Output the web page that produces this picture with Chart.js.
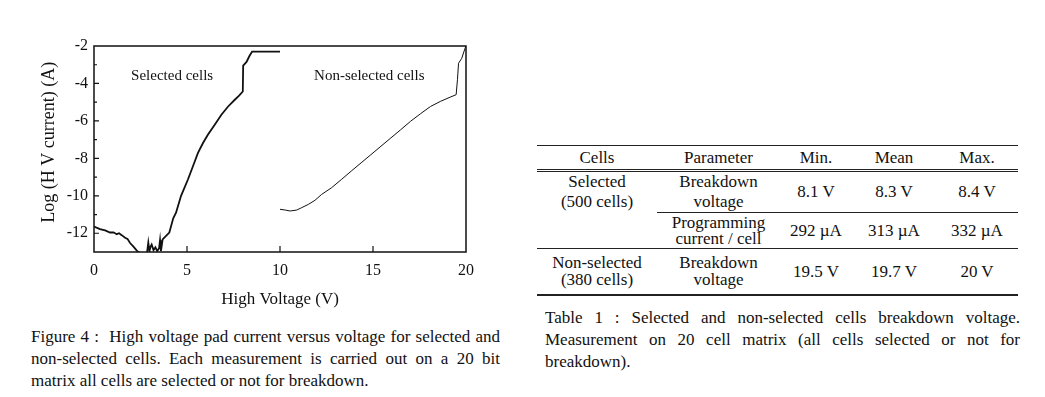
<html>

<head>
    <script src="https://cdn.jsdelivr.net/npm/chart.js@4.4.1/dist/chart.umd.min.js"></script>
    <style>
        body {
            margin: 0;
            background: #fff;
            font-family: "Liberation Serif", "DejaVu Serif", serif;
            color: #111;
        }

        .plot {
            position: absolute;
            left: 0;
            top: 0;
            width: 500px;
            height: 320px;
        }

        .cap {
            position: absolute;
            font-size: 17px;
            line-height: 22px;
            text-align: justify;
        }

        table {
            position: absolute;
            left: 537px;
            top: 145px;
            width: 481px;
            border-collapse: collapse;
            font-size: 17px;
            table-layout: fixed;
        }

        td {
            text-align: center;
            padding: 0;
        }
    </style>
</head>

<body>
    <div class="plot">
        <canvas id="myChart"></canvas>
    </div>

    <table>
        <colgroup>
            <col style="width:120px">
            <col style="width:123px">
            <col style="width:72px">
            <col style="width:84px">
            <col style="width:82px">
        </colgroup>
        <tr style="height:25px;border-top:1px solid #222;border-bottom:3px double #222">
            <td>Cells</td>
            <td>Parameter</td>
            <td>Min.</td>
            <td>Mean</td>
            <td>Max.</td>
        </tr>
        <tr style="height:40px;line-height:20px">
            <td rowspan="2" style="vertical-align:top">Selected<br>(500 cells)</td>
            <td style="border-bottom:1px solid #222">Breakdown<br>voltage</td>
            <td style="border-bottom:1px solid #222">8.1 V</td>
            <td style="border-bottom:1px solid #222">8.3 V</td>
            <td style="border-bottom:1px solid #222">8.4 V</td>
        </tr>
        <tr style="height:36px;line-height:16px;border-bottom:1px solid #222">
            <td>Programming<br>current / cell</td>
            <td>292 µA</td>
            <td>313 µA</td>
            <td>332 µA</td>
        </tr>
        <tr style="height:46px;line-height:17px;border-bottom:2px solid #222">
            <td>Non-selected<br>(380 cells)</td>
            <td>Breakdown<br>voltage</td>
            <td>19.5 V</td>
            <td>19.7 V</td>
            <td>20 V</td>
        </tr>
    </table>

    <div class="cap" style="left:31px;top:326px;width:469px">Figure 4 :&nbsp; High voltage pad current versus voltage for selected and non-selected cells. Each measurement is carried out on a 20 bit matrix all cells are selected or not for breakdown.</div>
    <div class="cap" style="left:545px;top:307px;width:475px">Table 1 : Selected and non-selected cells breakdown voltage. Measurement on 20 cell matrix (all cells selected or not for breakdown).</div>

    <script>
        // selected cells : voltage (V) / log current
        let selV = [0, 0.32, 0.6, 0.86, 1.05, 1.22, 1.35, 1.49, 1.67, 1.8, 1.94, 2.11, 2.3, 2.45, 2.85, 2.92, 2.98, 3.05, 3.1, 3.2, 3.3, 3.4, 3.5, 3.55, 3.6, 3.69,
            4.05, 4.26, 4.41, 4.68, 5.05, 5.32, 5.59, 5.86, 6.13, 6.49, 6.85, 7.21, 7.57, 7.8, 8.0, 8.02, 8.2, 8.35, 8.5, 10.0];
        let selI = [-11.64, -11.78, -11.85, -11.96, -11.95, -12.05, -12.0, -12.1, -12.24, -12.3, -12.52, -12.7, -12.93, -13.05, -13.05, -12.5, -12.95, -12.7, -12.6, -12.9, -12.75, -12.95, -12.8, -12.37, -12.95, -12.33,
            -11.96, -11.2, -10.9, -10.0, -9.13, -8.42, -7.71, -7.18, -6.73, -6.2, -5.67, -5.23, -4.87, -4.65, -4.43, -3.05, -2.85, -2.55, -2.3, -2.3];

        // non-selected cells
        let nonV = [10, 10.28, 10.55, 10.9, 11.17, 11.52, 11.88, 12.23, 12.77, 13.3, 13.83, 14.36, 14.89, 15.43, 15.96, 16.49, 17.02, 17.55, 18.09, 18.62, 19.15, 19.47, 19.54, 19.6, 19.77, 19.95, 20];
        let nonI = [-10.72, -10.76, -10.81, -10.76, -10.63, -10.46, -10.24, -9.93, -9.57, -9.13, -8.68, -8.24, -7.8, -7.35, -6.91, -6.47, -6.02, -5.62, -5.23, -4.96, -4.73, -4.6, -3.8, -2.92, -2.66, -2.12, -2.0];

        let xTicks = [0, 5, 10, 15, 20];
        let yTicks = [-13, -12, -11, -10, -9, -8, -7, -6, -5, -4, -3, -2];
        let yLabels = [-12, -10, -8, -6, -4, -2];
        let notes = [
            { text: "Selected cells", x: 4.2, y: -3.6 },
            { text: "Non-selected cells", x: 14.8, y: -3.6 }
        ];

        let toPts = (xs, ys) => xs.map((v, i) => ({ x: v, y: ys[i] }));

        // frame, inward ticks and the two curve labels
        let frame = {
            id: "frame",
            afterDraw(chart) {
                let c = chart.ctx, a = chart.chartArea;
                let sx = chart.scales.x, sy = chart.scales.y;
                c.save();
                c.strokeStyle = "#111";
                c.lineWidth = 1.5;
                c.strokeRect(a.left, a.top, a.right - a.left, a.bottom - a.top);
                c.lineWidth = 1.2;
                c.beginPath();
                yTicks.forEach(v => {
                    if (v == -13 || v == -2) return;
                    let py = sy.getPixelForValue(v);
                    let len = yLabels.includes(v) ? 5 : 3;
                    c.moveTo(a.left, py);
                    c.lineTo(a.left + len, py);
                });
                xTicks.forEach(v => {
                    if (v == 0 || v == 20) return;
                    let px = sx.getPixelForValue(v);
                    c.moveTo(px, a.bottom);
                    c.lineTo(px, a.bottom - 6);
                });
                c.stroke();
                c.fillStyle = "#111";
                c.font = "15px 'Liberation Serif'";
                c.textAlign = "center";
                c.textBaseline = "middle";
                notes.forEach(n => c.fillText(n.text, sx.getPixelForValue(n.x), sy.getPixelForValue(n.y)));
                c.restore();
            }
        };

        var ctx = document.getElementById('myChart').getContext('2d');
        var myChart = new Chart(ctx, {
            type: 'scatter',
            data: {
                datasets: [{
                    label: "Selected cells",
                    data: toPts(selV, selI),
                    showLine: true,
                    borderColor: "#111",
                    borderWidth: 1.8,
                    pointRadius: 0
                }, {
                    label: "Non-selected cells",
                    data: toPts(nonV, nonI),
                    showLine: true,
                    borderColor: "#111",
                    borderWidth: 1,
                    pointRadius: 0
                }]
            },
            plugins: [frame],
            options: {
                responsive: true,
                maintainAspectRatio: false,
                animation: false,
                layout: {
                    padding: { left: 30, top: 46, right: 34, bottom: 10 }
                },
                plugins: {
                    legend: { display: false },
                    tooltip: { enabled: false }
                },
                elements: {
                    line: { tension: 0 }
                },
                scales: {
                    x: {
                        type: 'linear',
                        min: 0,
                        max: 20,
                        afterBuildTicks: s => { s.ticks = xTicks.map(v => ({ value: v })); },
                        afterFit: s => { s.height = 58; },
                        grid: { display: false, drawTicks: false },
                        border: { display: false },
                        ticks: {
                            color: "#111",
                            padding: 9,
                            maxRotation: 0,
                            font: { family: "Liberation Serif", size: 16 }
                        },
                        title: {
                            display: true,
                            text: "High Voltage (V)",
                            color: "#111",
                            padding: { top: 0, bottom: 0 },
                            font: { family: "Liberation Serif", size: 17 }
                        }
                    },
                    y: {
                        min: -13,
                        max: -2,
                        afterBuildTicks: s => { s.ticks = yTicks.map(v => ({ value: v })); },
                        afterFit: s => { s.width = 64; },
                        grid: { display: false, drawTicks: false },
                        border: { display: false },
                        ticks: {
                            color: "#111",
                            padding: 6,
                            autoSkip: false,
                            font: { family: "Liberation Serif", size: 16 },
                            callback: v => yLabels.includes(v) ? String(v) : ""
                        },
                        title: {
                            display: true,
                            text: "\u2002 Log (H V current) (A)",
                            color: "#111",
                            padding: { top: 8, bottom: 0 },
                            font: { family: "Liberation Serif", size: 18 }
                        }
                    }
                }
            }
        });
    </script>
</body>

</html>
